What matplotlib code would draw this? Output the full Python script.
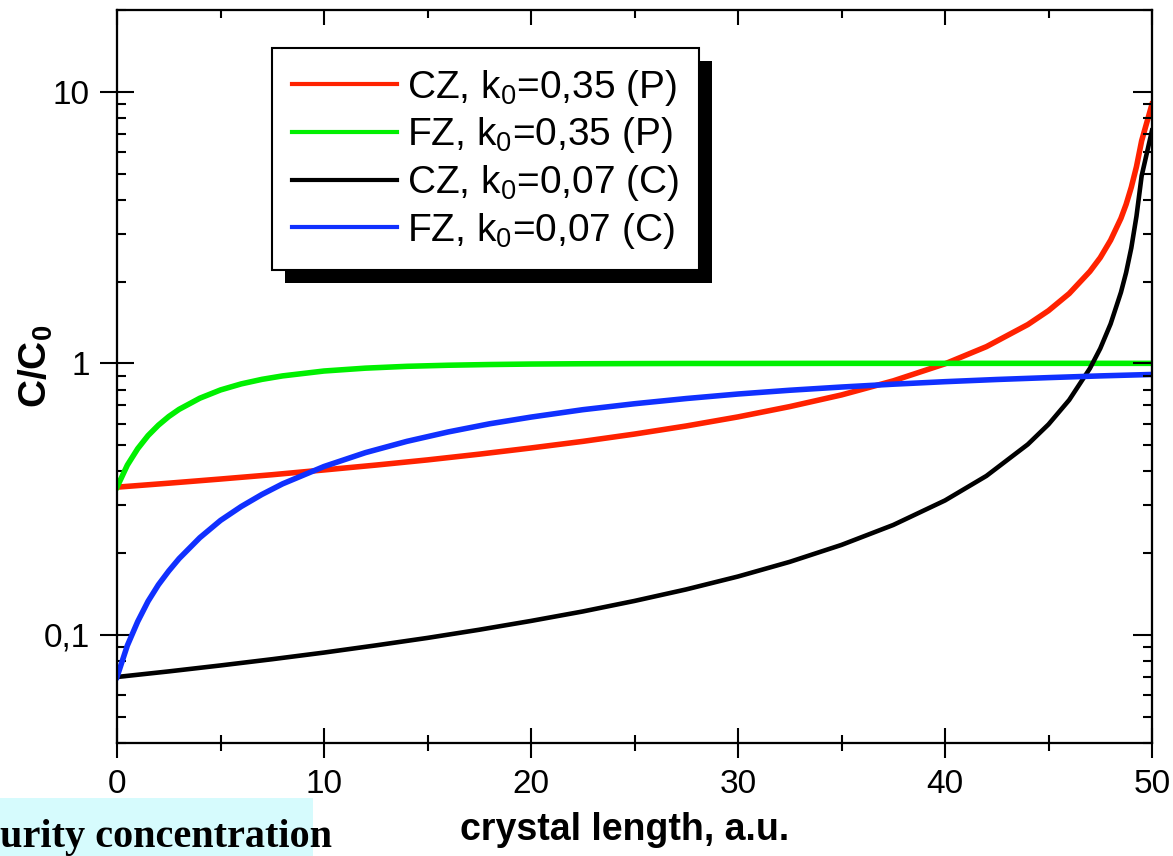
import numpy as np
import matplotlib
matplotlib.use("Agg")
import matplotlib.pyplot as plt
from matplotlib.ticker import FixedLocator, FixedFormatter, LogLocator, NullFormatter, MultipleLocator
from matplotlib.patches import Rectangle
from matplotlib.transforms import IdentityTransform

plt.rcParams['font.family'] = ['Liberation Sans', 'DejaVu Sans']
plt.rcParams['mathtext.fontset'] = 'custom'
plt.rcParams['mathtext.rm'] = 'Liberation Sans'
plt.rcParams['mathtext.bf'] = 'Liberation Sans:bold'
plt.rcParams['mathtext.it'] = 'Liberation Sans:italic'
plt.rcParams['mathtext.default'] = 'regular'

## datos
x_cz = [0, 2.5, 5, 7.5, 10, 12.5, 15, 17.5, 20, 22.5, 25, 27.5, 30, 32.5, 35, 37.5,
        40, 42, 44, 45, 46, 47, 47.5, 48, 48.5, 48.75, 49, 49.25, 49.5, 50]
cz_035 = [0.350, 0.362, 0.375, 0.389, 0.405, 0.422, 0.441, 0.463, 0.488, 0.516, 0.549,
          0.588, 0.635, 0.693, 0.765, 0.862, 0.996, 1.152, 1.389, 1.563, 1.807, 2.18,
          2.45, 2.84, 3.42, 3.85, 4.45, 5.3, 6.6, 9.0]
cz_007 = [0.070, 0.0734, 0.0772, 0.0814, 0.0861, 0.0915, 0.0975, 0.1045, 0.1126, 0.1220,
          0.1334, 0.1471, 0.1641, 0.1858, 0.2145, 0.254, 0.3127, 0.385, 0.503, 0.596,
          0.733, 0.958, 1.134, 1.397, 1.826, 2.16, 2.66, 3.48, 4.9, 7.2]

x_fz = [0, 0.5, 1, 1.5, 2, 2.5, 3, 4, 5, 6, 7, 8, 10, 12, 14, 16, 18, 20, 22.5, 25,
        27.5, 30, 32.5, 35, 37.5, 40, 42.5, 45, 47.5, 50]
fz_035 = [0.35, 0.422, 0.485, 0.542, 0.592, 0.637, 0.677, 0.744, 0.798, 0.840, 0.873,
          0.899, 0.937, 0.960, 0.975, 0.984, 0.990, 0.994, 0.9966, 0.998, 0.9989, 0.999,
          0.9995, 1.0, 1.0, 1.0, 1.0, 1.0, 1.0, 1.0]
fz_007 = [0.07, 0.0914, 0.112, 0.133, 0.153, 0.172, 0.191, 0.228, 0.264, 0.297, 0.329,
          0.360, 0.417, 0.469, 0.516, 0.559, 0.599, 0.634, 0.675, 0.710, 0.742, 0.771,
          0.796, 0.818, 0.838, 0.856, 0.872, 0.886, 0.899, 0.910]

labels = ["CZ, k$_0$=0,35 (P)", "FZ, k$_0$=0,35 (P)", "CZ, k$_0$=0,07 (C)", "FZ, k$_0$=0,07 (C)"]
ytick_vals = [0.1, 1, 10]
ytick_labels = ["0,1", "1", "10"]
xtick_vals = [0, 10, 20, 30, 40, 50]

W, H = 1173, 856
fig = plt.figure(figsize=(W/100.0, H/100.0), dpi=100)
ax = fig.add_axes([117.0/W, (H-743.0)/H, 1035.0/W, 733.0/H])

ax.plot(x_cz, cz_035, color='#ff2200', lw=4, label=labels[0])
ax.plot(x_fz, fz_035, color='#00f000', lw=4, label=labels[1])
ax.plot(x_cz, cz_007, color='black', lw=3.3, label=labels[2])
ax.plot(x_fz, fz_007, color='#1030ff', lw=4, label=labels[3])

ax.set_yscale('log')
ax.set_xlim(0, 50)
ax.set_ylim(0.04, 20)

ax.yaxis.set_major_locator(FixedLocator(ytick_vals))
ax.yaxis.set_major_formatter(FixedFormatter(ytick_labels))
ax.yaxis.set_minor_locator(LogLocator(base=10, subs=np.arange(2, 10)))
ax.yaxis.set_minor_formatter(NullFormatter())
ax.set_xticks(xtick_vals)
ax.xaxis.set_minor_locator(MultipleLocator(5))

ax.tick_params(axis='y', which='major', direction='inout', length=25, width=1.5,
               pad=7, labelsize=24, right=False)
ax.tick_params(axis='y', which='minor', direction='in', length=6.5, width=1.5, right=False)
ax.tick_params(axis='x', which='major', direction='inout', length=21.5, width=1.5,
               pad=8, labelsize=24, top=False)
ax.tick_params(axis='x', which='minor', direction='inout', length=11.5, width=1.5, top=False)
for s in ax.spines.values():
    s.set_linewidth(1.5)

# ejes de la derecha y arriba (solo ticks hacia adentro)
axr = ax.twinx()
axr.set_yscale('log')
axr.set_ylim(0.04, 20)
axr.yaxis.set_major_locator(FixedLocator(ytick_vals))
axr.yaxis.set_minor_locator(LogLocator(base=10, subs=np.arange(2, 10)))
axr.yaxis.set_major_formatter(NullFormatter())
axr.yaxis.set_minor_formatter(NullFormatter())
axr.tick_params(axis='y', which='major', direction='in', length=14, width=1.5)
axr.tick_params(axis='y', which='minor', direction='in', length=6.5, width=1.5)

axt = ax.twiny()
axt.set_xlim(0, 50)
axt.set_xticks(xtick_vals)
axt.xaxis.set_minor_locator(MultipleLocator(5))
axt.xaxis.set_major_formatter(NullFormatter())
axt.tick_params(axis='x', which='major', direction='in', length=11, width=1.5)
axt.tick_params(axis='x', which='minor', direction='in', length=5.5, width=1.5)
for a in (axr, axt):
    for s in a.spines.values():
        s.set_linewidth(1.5)

ax.set_xlabel("crystal length, a.u.", fontsize=27, fontweight='bold')
ax.xaxis.set_label_coords(0.49, -0.094)
ax.set_ylabel(r"C/C$_\mathbf{0}$", fontsize=28, fontweight='bold')
ax.yaxis.set_label_coords(-0.060, 0.514)

leg = ax.legend(loc='upper left', bbox_to_anchor=(0.150, 0.948), borderaxespad=0,
                fontsize=28, fancybox=False, framealpha=1, edgecolor='black',
                handlelength=2.7, handletextpad=0.27, borderpad=0.5, labelspacing=0.2)
leg.get_frame().set_linewidth(1.5)
for l in leg.get_lines():
    l.set_linewidth(3)

# sombra negra del recuadro
fig.canvas.draw()
bb = leg.get_window_extent()
shadow = Rectangle((bb.x0+13, bb.y0-13), bb.width, bb.height, facecolor='black',
                   edgecolor='none', transform=IdentityTransform(), zorder=4.5)
ax.add_artist(shadow)

# trozo del texto de la diapositiva
fig.add_artist(Rectangle((0, 0), 313.0/W, 58.0/H, transform=fig.transFigure,
                         facecolor='#d6fbfd', edgecolor='none'))
fig.text(0, 9.0/H, "urity concentration", family='Liberation Serif', fontweight='bold',
         fontsize=29, va='baseline', ha='left')

plt.savefig("out.png", dpi=100)
plt.close()
